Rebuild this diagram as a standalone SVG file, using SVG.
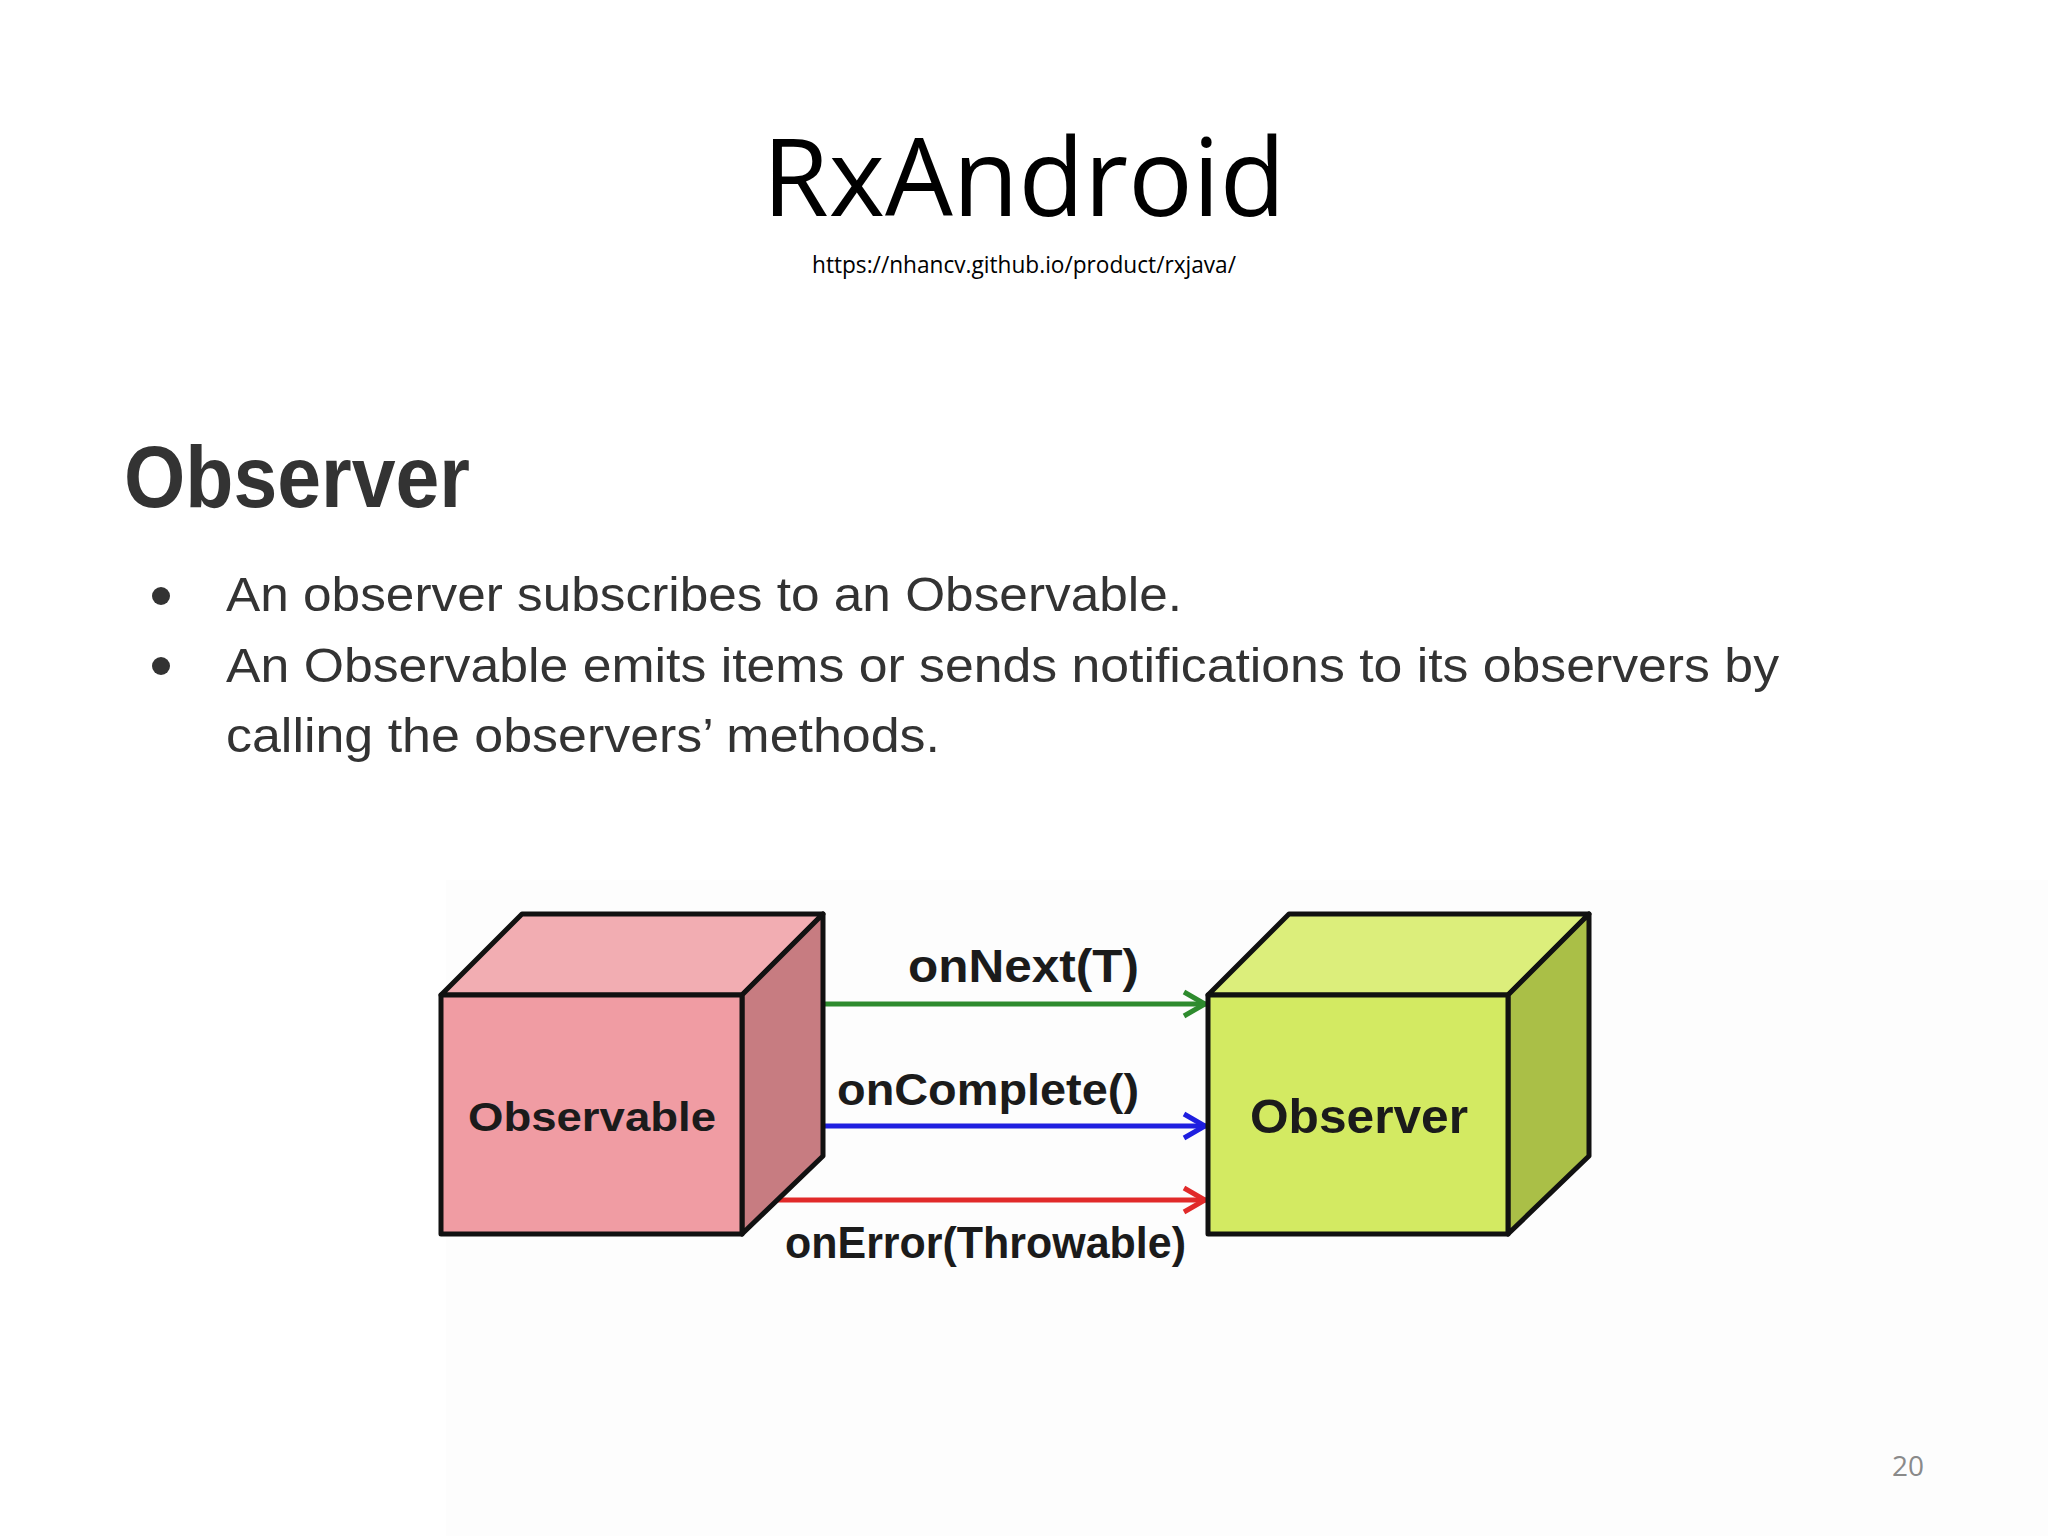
<svg xmlns="http://www.w3.org/2000/svg" width="2048" height="1536" viewBox="0 0 2048 1536">
  <style>
    .edge { stroke: #111; stroke-width: 5; stroke-linejoin: round; }
    .conn { stroke-width: 5; fill: none; }
    .lbl { font-family: "Liberation Sans", Arial, sans-serif; font-weight: bold; fill: #1b1b1b; }
    .body { font-family: "Liberation Sans", Arial, sans-serif; fill: #333333; font-size: 48px; }
  </style>
  <defs>
    <marker id="ahG" viewBox="0 0 30 30" refX="27" refY="15" markerWidth="30" markerHeight="30" markerUnits="userSpaceOnUse" orient="auto">
      <path d="M5,3 L26,15 L5,27" fill="none" stroke="#2e8b2e" stroke-width="5"/>
    </marker>
    <marker id="ahB" viewBox="0 0 30 30" refX="27" refY="15" markerWidth="30" markerHeight="30" markerUnits="userSpaceOnUse" orient="auto">
      <path d="M5,3 L26,15 L5,27" fill="none" stroke="#1f1fe0" stroke-width="5"/>
    </marker>
    <marker id="ahR" viewBox="0 0 30 30" refX="27" refY="15" markerWidth="30" markerHeight="30" markerUnits="userSpaceOnUse" orient="auto">
      <path d="M5,3 L26,15 L5,27" fill="none" stroke="#e12a2a" stroke-width="5"/>
    </marker>
  </defs>

  <rect x="0" y="0" width="2048" height="1536" fill="#ffffff"/>
  <rect x="446" y="880" width="1602" height="656" fill="#fdfdfd"/>

  <text x="1024" y="216" text-anchor="middle" font-family="'Open Sans', 'Liberation Sans', sans-serif" font-size="108" fill="#000" textLength="523" lengthAdjust="spacingAndGlyphs">RxAndroid</text>
  <text x="1024" y="273" text-anchor="middle" font-family="'Open Sans', 'Liberation Sans', sans-serif" font-size="24" fill="#000" textLength="424" lengthAdjust="spacingAndGlyphs">https://nhancv.github.io/product/rxjava/</text>

  <text x="124" y="507" font-family="'Liberation Sans', Arial, sans-serif" font-weight="bold" font-size="88" fill="#333333" textLength="346" lengthAdjust="spacingAndGlyphs">Observer</text>

  <circle cx="161" cy="596" r="9" fill="#333333"/>
  <circle cx="161" cy="666" r="9" fill="#333333"/>
  <text class="body" x="226" y="611" textLength="956" lengthAdjust="spacingAndGlyphs">An observer subscribes to an Observable.</text>
  <text class="body" x="226" y="682" textLength="1553" lengthAdjust="spacingAndGlyphs">An Observable emits items or sends notifications to its observers by</text>
  <text class="body" x="226" y="752" textLength="714" lengthAdjust="spacingAndGlyphs">calling the observers’ methods.</text>

  <g id="connectors">
    <line class="conn" x1="823" y1="1004" x2="1206" y2="1004" stroke="#2e8b2e" marker-end="url(#ahG)"/>
    <line class="conn" x1="823" y1="1126" x2="1206" y2="1126" stroke="#1f1fe0" marker-end="url(#ahB)"/>
    <line class="conn" x1="777" y1="1200" x2="1206" y2="1200" stroke="#e12a2a" marker-end="url(#ahR)"/>
    <text class="lbl" x="908" y="982" font-size="46" textLength="231" lengthAdjust="spacingAndGlyphs">onNext(T)</text>
    <text class="lbl" x="837" y="1105" font-size="44" textLength="302" lengthAdjust="spacingAndGlyphs">onComplete()</text>
    <text class="lbl" x="785" y="1258" font-size="44" textLength="401" lengthAdjust="spacingAndGlyphs">onError(Throwable)</text>
  </g>

  <g id="node-observable">
    <polygon class="edge" points="441,995 522,914 823,914 742,995" fill="#f2adb2"/>
    <polygon class="edge" points="742,995 823,914 823,1156 742,1234" fill="#c77c81"/>
    <rect class="edge" x="441" y="995" width="301" height="239" fill="#f09ca3"/>
    <text class="lbl" x="468" y="1131" font-size="40" textLength="248" lengthAdjust="spacingAndGlyphs">Observable</text>
  </g>

  <g id="node-observer">
    <polygon class="edge" points="1208,995 1289,914 1589,914 1508,995" fill="#dcee7b"/>
    <polygon class="edge" points="1508,995 1589,914 1589,1156 1508,1234" fill="#aabf47"/>
    <rect class="edge" x="1208" y="995" width="300" height="239" fill="#d3ea62"/>
    <text class="lbl" x="1250" y="1133" font-size="48" textLength="218" lengthAdjust="spacingAndGlyphs">Observer</text>
  </g>

  <text x="1892" y="1476" font-family="'Open Sans', 'Liberation Sans', sans-serif" font-size="28" fill="#8a8a8a" textLength="32" lengthAdjust="spacingAndGlyphs">20</text>
</svg>
